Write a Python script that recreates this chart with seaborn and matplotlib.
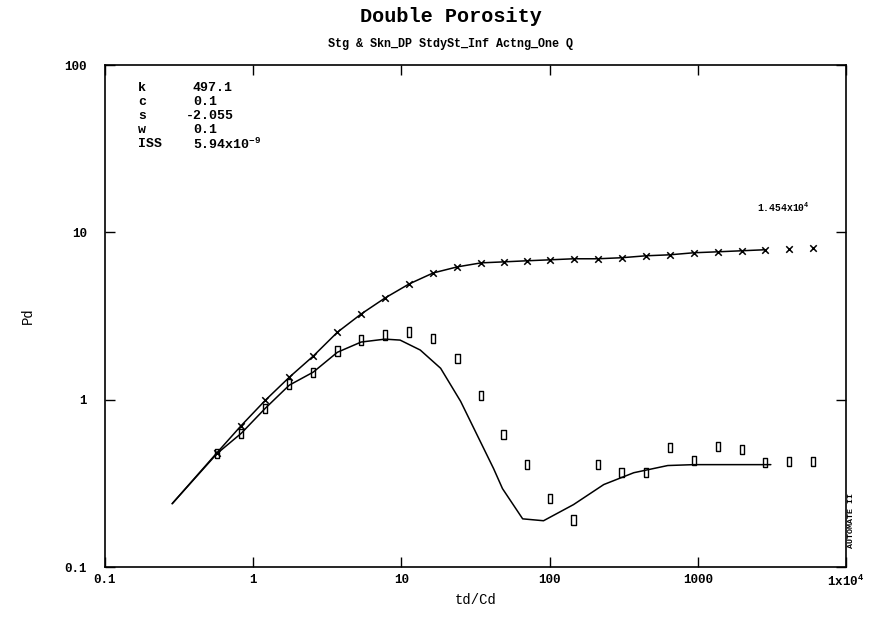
import matplotlib
matplotlib.use('Agg')
import numpy as np
import pandas as pd
import matplotlib.pyplot as plt
import seaborn as sns

# data (td/Cd, Pd and derivative)
t_data = [0.571, 0.830, 1.205, 1.75, 2.54, 3.70, 5.35, 7.75, 11.3, 16.4, 23.9, 34.5, 48.9,
          70.0, 100, 145, 211, 306, 445, 647, 940, 1365, 1982, 2840, 4120, 5980]
pd_data = [0.483, 0.70, 0.99, 1.36, 1.82, 2.53, 3.25, 4.05, 4.92, 5.72, 6.22, 6.57, 6.66,
           6.76, 6.85, 6.95, 6.95, 7.05, 7.24, 7.34, 7.55, 7.65, 7.76, 7.87, 7.98, 8.09]
der_data = [0.477, 0.629, 0.887, 1.24, 1.46, 1.95, 2.27, 2.43, 2.54, 2.33, 1.77, 1.06, 0.62,
            0.409, 0.256, 0.191, 0.409, 0.366, 0.366, 0.518, 0.432, 0.525, 0.504, 0.421, 0.427, 0.427]

# model curves
t_pd_model = [0.284, 0.571, 0.830, 1.205, 1.75, 2.54, 3.70, 5.35, 7.75, 11.3, 16.4, 23.9, 34.5,
              48.9, 70.0, 100, 145, 211, 306, 445, 647, 940, 1365, 1982, 2840]
pd_model = [0.239, 0.483, 0.70, 0.99, 1.36, 1.82, 2.53, 3.25, 4.05, 4.92, 5.72, 6.22, 6.57,
            6.66, 6.76, 6.85, 6.95, 6.95, 7.05, 7.24, 7.34, 7.55, 7.65, 7.76, 7.87]
t_der_model = [0.284, 0.571, 0.830, 1.205, 1.75, 2.54, 3.70, 5.35, 7.75, 9.8, 13.4, 18.4, 25.1,
               41.9, 48.1, 65.8, 91.0, 145, 232, 370, 627, 940, 1750, 3110]
der_model = [0.239, 0.477, 0.629, 0.887, 1.22, 1.46, 1.92, 2.21, 2.30, 2.27, 1.98, 1.54, 0.977,
             0.387, 0.294, 0.194, 0.189, 0.236, 0.311, 0.366, 0.404, 0.409, 0.409, 0.409]

x_ticks = [0.1, 1, 10, 100, 1000, 10000]
x_labels = ['0.1', '1', '10', '100', '1000', '1x10$^{4}$']
y_ticks = [0.1, 1, 10, 100]
y_labels = ['0.1', '1', '10', '100']

params = [('k', '497.1'), ('c', '0.1'), ('s', '-2.055'), ('w', '0.1'), ('ISS', '5.94x10$^{-9}$')]

sns.set_style('ticks')
plt.rcParams['font.family'] = ['Liberation Mono', 'DejaVu Sans Mono']
plt.rcParams['font.weight'] = 'bold'
plt.rcParams['mathtext.default'] = 'regular'
plt.rcParams['text.color'] = 'black'
plt.rcParams['axes.labelcolor'] = 'black'
plt.rcParams['xtick.color'] = 'black'
plt.rcParams['ytick.color'] = 'black'

W, H = 879, 636
fig = plt.figure(figsize=(W / 100, H / 100), dpi=100)
ax = fig.add_axes([105 / W, 1 - 567 / H, (846 - 105) / W, (567 - 65) / H])

model_pd = pd.DataFrame({'t': t_pd_model, 'v': pd_model})
model_der = pd.DataFrame({'t': t_der_model, 'v': der_model})
sns.lineplot(data=model_pd, x='t', y='v', sort=False, color='black', lw=1.1, ax=ax)
sns.lineplot(data=model_der, x='t', y='v', sort=False, color='black', lw=1.1, ax=ax)

rect = [(-0.45, -1), (0.45, -1), (0.45, 1), (-0.45, 1), (-0.45, -1)]
pts = pd.DataFrame({'t': t_data, 'pd': pd_data, 'der': der_data})
sns.scatterplot(data=pts, x='t', y='pd', marker='x', s=22, color='black', linewidth=1.1, ax=ax)
sns.scatterplot(data=pts, x='t', y='der', marker=rect, s=45, facecolor='none',
                edgecolor='black', linewidth=1.0, ax=ax)

ax.set_xscale('log')
ax.set_yscale('log')
ax.set_xlim(0.1, 10000)
ax.set_ylim(0.1, 100)
ax.set_xticks(x_ticks)
ax.set_xticklabels(x_labels, fontsize=9)
ax.set_yticks(y_ticks)
ax.set_yticklabels(y_labels, fontsize=9)
ax.minorticks_off()
ax.tick_params(direction='in', length=7, width=1, top=True, right=True)
ax.tick_params(axis='x', pad=5)
ax.tick_params(axis='y', pad=13)
for sp in ax.spines.values():
    sp.set_linewidth(1.2)
    sp.set_color('black')

ax.set_xlabel('td/Cd', fontsize=10, labelpad=3)
ax.set_ylabel('Pd', fontsize=10)
ax.yaxis.set_label_coords((35 - 105) / 741, 0.5)

fig.text(451 / W, 1 - 16 / H, 'Double Porosity', ha='center', va='center', fontsize=14.5)
fig.text(451 / W, 1 - 44 / H, 'Stg & Skn_DP StdySt_Inf Actng_One Q', ha='center', va='center',
         fontsize=8.5)

for i, (name, val) in enumerate(params):
    y = 1 - (88 + 14 * i) / H
    fig.text(138 / W, y, name, ha='left', va='center', fontsize=9.5)
    xv = 186 if val.startswith('-') else 193
    fig.text(xv / W, y, val, ha='left', va='center', fontsize=9.5)

fig.text(757 / W, 1 - 207 / H, '1.454x10$^{4}$', ha='left', va='center', fontsize=7)
fig.text(852 / W, 1 - 520 / H, 'AUTOMATE II', rotation=90, ha='center', va='center', fontsize=6)

fig.savefig('out.png', dpi=100)
